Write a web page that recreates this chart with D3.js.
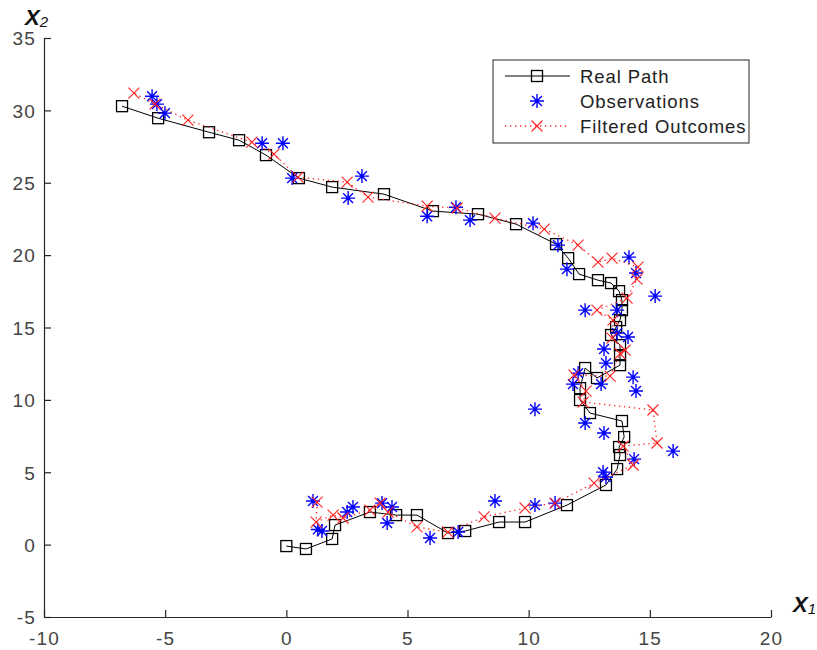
<!DOCTYPE html>
<html>
<head>
<meta charset="utf-8">
<script src="https://cdn.jsdelivr.net/npm/d3@7"></script>
<style>
  body { margin: 0; background: #fff; }
  text { font-family: "Liberation Sans", Arial, sans-serif; }
</style>
</head>
<body>
<script>
// Real path (x1, x2)
const realX = [0, 0.81, 1.89, 2.01, 3.45, 4.53, 5.39, 6.67, 7.38, 8.78, 9.85, 11.58, 13.19, 13.65, 13.77, 13.73,
  13.94, 13.85, 12.53, 12.12, 12.12, 12.33, 12.82, 13.77, 13.77, 13.77, 13.4, 13.61, 13.77, 13.85, 13.85, 13.73,
  13.4, 12.86, 12.08, 11.63, 11.13, 9.48, 7.91, 6.05, 4.03, 1.89, 0.52, -0.84, -1.95, -3.19, -5.29, -6.78]
const realY = [-0.1, -0.3, 0.39, 1.35, 2.25, 2.04, 2.04, 0.8, 0.94, 1.56, 1.56, 2.73, 4.12, 5.22, 6.19, 6.74,
  7.43, 8.54, 9.09, 9.99, 10.81, 12.2, 11.51, 12.4, 13.09, 13.78, 14.48, 15.03, 15.51, 16.2, 16.89, 17.51,
  18.07, 18.27, 18.69, 19.79, 20.76, 22.14, 22.83, 23.04, 24.21, 24.7, 25.32, 26.91, 27.94, 28.49, 29.46, 30.29]

// Observations
const obsX = [1.1, 1.47, 1.3, 2.51, 2.75, 3.95, 4.16, 4.36, 5.93, 7.09, 8.61, 10.26, 11.09, 13.07, 13.19, 14.35,
  15.96, 13.11, 12.33, 10.26, 12.04, 11.83, 12.99, 14.43, 14.31, 13.19, 13.11, 14.1, 13.65, 13.65, 12.33, 15.22,
  14.43, 14.14, 11.58, 11.21, 10.18, 7.58, 7.0, 5.81, 2.55, 3.12, 0.24, -0.14, -1.0, -5.01, -5.34, -5.54]
const obsY = [3.01, 0.94, 1.05, 2.25, 2.6, 2.87, 1.49, 2.6, 0.46, 0.87, 3.01, 2.73, 2.87, 5.01, 4.67, 5.91,
  6.46, 7.71, 8.4, 9.36, 11.85, 11.09, 11.09, 10.61, 11.57, 12.54, 13.51, 14.34, 14.61, 16.2, 16.2, 17.17,
  18.76, 19.86, 19.03, 20.69, 22.21, 22.42, 23.31, 22.69, 23.94, 25.46, 25.32, 27.73, 27.73, 29.81, 30.43, 30.98]

// Filtered outcomes
const filtX = [1.27, 1.23, 1.93, 2.34, 3.45, 3.87, 4.2, 5.39, 6.67, 8.16, 9.85, 11.09, 12.7, 14.31, 13.9, 15.3,
  15.13, 12.25, 12.37, 11.87, 13.36, 13.77, 13.98, 13.44, 13.48, 12.82, 14.06, 14.47, 14.51, 13.44, 12.86, 12.04,
  10.64, 8.61, 7.05, 5.81, 3.37, 2.51, 0.48, -0.51, -1.42, -4.06, -5.42, -6.29]
const filtY = [2.94, 1.56, 2.04, 1.84, 2.39, 2.87, 2.25, 1.22, 0.87, 1.91, 2.53, 2.87, 4.25, 5.5, 6.81, 7.02,
  9.3, 9.85, 10.61, 11.71, 11.64, 13.2, 13.44, 14.27, 15.51, 16.2, 17.03, 18.34, 19.17, 19.79, 19.52, 20.69,
  21.8, 22.56, 23.25, 23.38, 24.01, 25.04, 25.39, 26.98, 27.8, 29.32, 30.43, 31.19]

const xTicks = [-10, -5, 0, 5, 10, 15, 20]
const yTicks = [-5, 0, 5, 10, 15, 20, 25, 30, 35]
const legendNames = ['Real Path', 'Observations', 'Filtered Outcomes']

const width = 817
const height = 650
const margin = {left: 44, right: 46, top: 38, bottom: 33}

const svg = d3.select('body').append('svg')
  .attr('width', width)
  .attr('height', height)

const x = d3.scaleLinear().domain([-10, 20]).range([margin.left, width - margin.right])
const y = d3.scaleLinear().domain([-5, 35]).range([height - margin.bottom, margin.top])

const axisColor = '#262626'
const labelColor = '#444'

// axes, ticks drawn inward like matlab; plain hyphen for negatives
const xAxis = svg.append('g')
  .attr('transform', 'translate(0,' + y(-5) + ')')
  .call(d3.axisBottom(x).tickValues(xTicks).tickFormat(d => String(d))
    .tickSizeInner(-7).tickSizeOuter(0).tickPadding(15))
const yAxis = svg.append('g')
  .attr('transform', 'translate(' + x(-10) + ',0)')
  .call(d3.axisLeft(y).tickValues(yTicks).tickFormat(d => String(d))
    .tickSizeInner(-7).tickSizeOuter(0).tickPadding(8))

;[xAxis, yAxis].forEach(g => {
  g.select('.domain').attr('stroke', axisColor).attr('stroke-width', 1.2)
  g.selectAll('.tick line').attr('stroke', axisColor).attr('stroke-width', 1.2)
  g.selectAll('.tick text')
    .attr('fill', labelColor)
    .style('font-size', '19px')
    .style('letter-spacing', '1.2px')
    .style('font-family', '"Liberation Sans", Arial, sans-serif')
})
yAxis.selectAll('.tick text').attr('dy', '0.36em')

// axis names
function axisName (px, py, sub) {
  const t = svg.append('text')
    .attr('x', px)
    .attr('y', py)
    .attr('fill', '#111')
    .style('font-style', 'italic')
    .style('font-weight', 'bold')
    .style('font-size', '22px')
  t.append('tspan').text('X')
  t.append('tspan').text(sub)
    .attr('dy', 2)
    .style('font-size', '15px')
    .style('font-weight', 'normal')
}
axisName(25, 25, '2')
axisName(793, 612, '1')

// markers
function drawSquare (g, px, py) {
  g.append('rect')
    .attr('x', px - 5.5).attr('y', py - 5.5)
    .attr('width', 11).attr('height', 11)
    .attr('fill', 'none')
    .attr('stroke', '#000')
    .attr('stroke-width', 1.3)
}

function drawStar (g, px, py) {
  const r = 7
  const d = r * Math.SQRT1_2
  g.append('path')
    .attr('d', 'M' + (px - r) + ',' + py + 'H' + (px + r) +
      'M' + px + ',' + (py - r) + 'V' + (py + r) +
      'M' + (px - d) + ',' + (py - d) + 'L' + (px + d) + ',' + (py + d) +
      'M' + (px - d) + ',' + (py + d) + 'L' + (px + d) + ',' + (py - d))
    .attr('stroke', '#0000ff')
    .attr('stroke-width', 1.4)
    .attr('fill', 'none')
}

function drawCross (g, px, py) {
  const r = 5.5
  g.append('path')
    .attr('d', 'M' + (px - r) + ',' + (py - r) + 'L' + (px + r) + ',' + (py + r) +
      'M' + (px - r) + ',' + (py + r) + 'L' + (px + r) + ',' + (py - r))
    .attr('stroke', '#ff2020')
    .attr('stroke-width', 1.1)
    .attr('fill', 'none')
}

const line = d3.line().x(d => x(d[0])).y(d => y(d[1]))

// real path
const realPts = realX.map((v, i) => [v, realY[i]])
const realG = svg.append('g')
realG.append('path')
  .attr('d', line(realPts))
  .attr('fill', 'none')
  .attr('stroke', '#000')
  .attr('stroke-width', 1)
realPts.forEach(d => drawSquare(realG, x(d[0]), y(d[1])))

// observations
const obsG = svg.append('g')
obsX.forEach((v, i) => drawStar(obsG, x(v), y(obsY[i])))

// filtered
const filtPts = filtX.map((v, i) => [v, filtY[i]])
const filtG = svg.append('g')
filtG.append('path')
  .attr('d', line(filtPts))
  .attr('fill', 'none')
  .attr('stroke', '#ff2020')
  .attr('stroke-width', 1.3)
  .attr('stroke-dasharray', '1.3,3.7')
filtPts.forEach(d => drawCross(filtG, x(d[0]), y(d[1])))

// legend
const lg = svg.append('g')
lg.append('rect')
  .attr('x', 493).attr('y', 60)
  .attr('width', 256).attr('height', 83)
  .attr('fill', '#fff')
  .attr('stroke', '#262626')
  .attr('stroke-width', 1)

const rowY = [76, 101, 126]
lg.append('line')
  .attr('x1', 505).attr('x2', 570).attr('y1', rowY[0]).attr('y2', rowY[0])
  .attr('stroke', '#000').attr('stroke-width', 1)
drawSquare(lg, 537, rowY[0])
drawStar(lg, 537, rowY[1])
lg.append('line')
  .attr('x1', 505).attr('x2', 570).attr('y1', rowY[2]).attr('y2', rowY[2])
  .attr('stroke', '#ff2020').attr('stroke-width', 1.3)
  .attr('stroke-dasharray', '1.3,3.7')
drawCross(lg, 537, rowY[2])

legendNames.forEach((name, i) => {
  lg.append('text')
    .attr('x', 580)
    .attr('y', rowY[i])
    .attr('dy', '0.36em')
    .attr('fill', '#222')
    .style('font-size', '18.5px')
    .style('letter-spacing', '0.9px')
    .text(name)
})
</script>
</body>
</html>
